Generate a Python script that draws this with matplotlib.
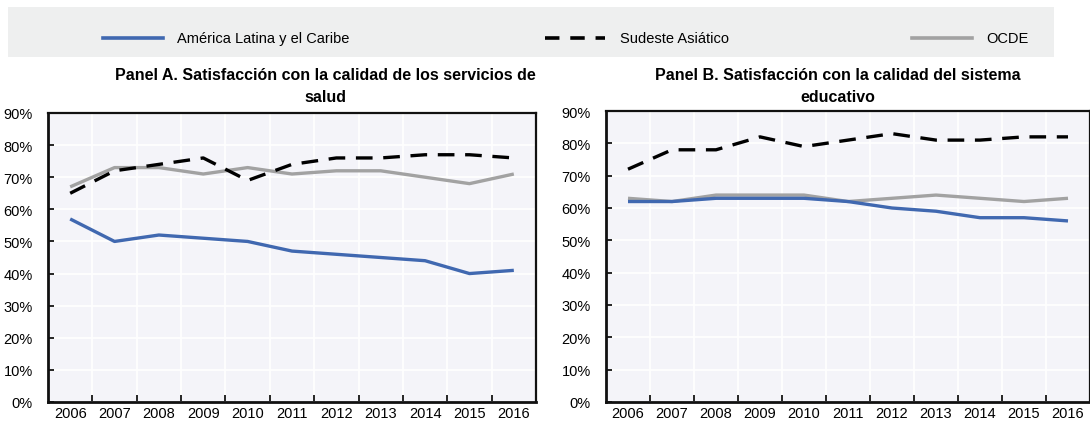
"""Satisfaccion con servicios de salud y sistema educativo, 2006-2016."""

import matplotlib

matplotlib.use("Agg")
import matplotlib.pyplot as plt
from matplotlib.patches import Rectangle
from matplotlib.lines import Line2D
from matplotlib.ticker import FixedLocator, FuncFormatter

plt.rcParams["font.family"] = ["Liberation Sans", "DejaVu Sans"]

years = [2006, 2007, 2008, 2009, 2010, 2011, 2012, 2013, 2014, 2015, 2016]

# Panel A: salud
salud_alc = [57, 50, 52, 51, 50, 47, 46, 45, 44, 40, 41]
salud_sea = [65, 72, 74, 76, 69, 74, 76, 76, 77, 77, 76]
salud_ocde = [67, 73, 73, 71, 73, 71, 72, 72, 70, 68, 71]

# Panel B: educacion
edu_alc = [62, 62, 63, 63, 63, 62, 60, 59, 57, 57, 56]
edu_sea = [72, 78, 78, 82, 79, 81, 83, 81, 81, 82, 82]
edu_ocde = [63, 62, 64, 64, 64, 62, 63, 64, 63, 62, 63]

series_names = ["América Latina y el Caribe", "Sudeste Asiático", "OCDE"]
titles = [
    ["Panel A. Satisfacción con la calidad de los servicios de", "salud"],
    ["Panel B. Satisfacción con la calidad del sistema", "educativo"],
]

BLUE = "#4068b0"
GRAY = "#a2a2a2"
BG = "#f4f4f9"

W, H = 1090, 427


def px_axes(fig, x0, x1, y0, y1):
    return fig.add_axes([x0 / W, (H - y1) / H, (x1 - x0) / W, (y1 - y0) / H])


def draw_panel(ax, alc, sea, ocde):
    xs = list(range(len(years)))
    ax.set_facecolor(BG)
    ax.plot(xs, ocde, color=GRAY, lw=2.4, solid_capstyle="butt", zorder=3)
    ax.plot(xs, sea, color="black", lw=2.4, ls=(0, (5, 3.2)), zorder=4)
    ax.plot(xs, alc, color=BLUE, lw=2.4, solid_capstyle="butt", zorder=5)

    ax.set_xlim(-0.5, len(years) - 0.5)
    ax.set_ylim(0, 90)
    ax.set_xticks(xs)
    ax.set_xticklabels([str(y) for y in years])
    ax.xaxis.set_minor_locator(FixedLocator([i + 0.5 for i in range(len(years) - 1)]))
    ax.tick_params(axis="x", which="major", length=0, pad=3, labelsize=10.5)
    ax.tick_params(axis="x", which="minor", direction="in", length=5, width=1.2)
    ax.set_yticks(range(0, 91, 10))
    ax.yaxis.set_major_formatter(FuncFormatter(lambda v, _: f"{v:.0f}%"))
    ax.tick_params(axis="y", direction="in", length=4, width=1.2, pad=11, labelsize=10.5)

    ax.grid(True, axis="y", which="major", color="white", lw=1.2, zorder=0)
    ax.grid(True, axis="x", which="minor", color="white", lw=1.2, zorder=0)
    ax.set_axisbelow(True)
    for side, sp in ax.spines.items():
        sp.set_color("#111111")
        sp.set_linewidth(2.0 if side in ("left", "bottom") else 1.6)


fig = plt.figure(figsize=(W / 100, H / 100), dpi=100)

ax_a = px_axes(fig, 48, 536, 114, 403)
ax_b = px_axes(fig, 606, 1090, 112, 403)
draw_panel(ax_a, salud_alc, salud_sea, salud_ocde)
draw_panel(ax_b, edu_alc, edu_sea, edu_ocde)

for lines, cx in zip(titles, [325, 838]):
    for k, line in enumerate(lines):
        fig.text(cx / W, 1 - (75 + 23 * k) / H, line, ha="center", va="center",
                 fontsize=11.5, fontweight="bold")

# legend strip
fig.patches.append(Rectangle((8 / W, 1 - 58 / H), 1046 / W, 50 / H, transform=fig.transFigure,
                             facecolor="#eeefef", edgecolor="none", zorder=0))
leg_y = 1 - 39 / H
styles = [
    dict(color=BLUE, lw=2.6),
    dict(color="black", lw=2.6, ls=(0, (4, 3))),
    dict(color=GRAY, lw=2.6),
]
line_x = [(103, 163), (545, 605), (912, 972)]
text_x = [177, 620, 986]
for name, st, (x0, x1), tx in zip(series_names, styles, line_x, text_x):
    fig.add_artist(Line2D([x0 / W, x1 / W], [leg_y, leg_y], transform=fig.transFigure, **st))
    fig.text(tx / W, leg_y, name, ha="left", va="center", fontsize=10.5)

fig.savefig("out.png", dpi=100)
